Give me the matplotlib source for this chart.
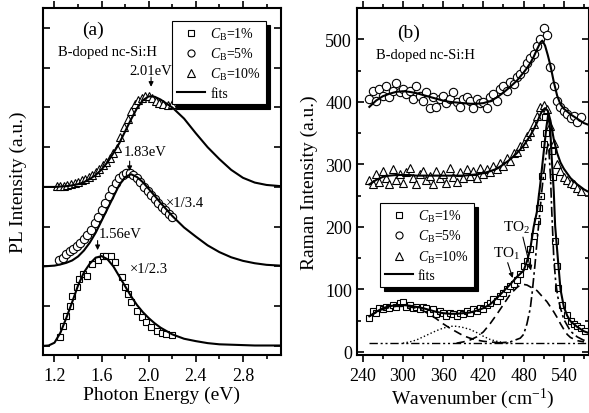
import matplotlib
matplotlib.use("Agg")
import matplotlib.pyplot as plt
from matplotlib.ticker import MultipleLocator

plt.rcParams['font.family'] = ['Liberation Serif', 'DejaVu Serif']
plt.rcParams['mathtext.fontset'] = 'custom'
plt.rcParams['mathtext.rm'] = 'Liberation Serif'
plt.rcParams['mathtext.it'] = 'Liberation Serif:italic'

# ---- (a) PL spectra ----
pl_x10 = [1.22, 1.25, 1.28, 1.31, 1.34, 1.37, 1.40, 1.43, 1.46, 1.49, 1.52, 1.55, 1.58,
          1.61, 1.64, 1.67, 1.70, 1.73, 1.76, 1.79, 1.82, 1.85, 1.88, 1.91, 1.94, 1.97,
          2.00, 2.03, 2.06, 2.09, 2.12, 2.16, 2.20]
pl_y10 = [4.02, 4.02, 4.03, 4.05, 4.07, 4.10, 4.13, 4.17, 4.21, 4.26, 4.31, 4.37, 4.45,
          4.54, 4.63, 4.72, 4.85, 4.98, 5.25, 5.50, 5.70, 5.90, 6.08, 6.18, 6.25, 6.30,
          6.30, 6.25, 6.15, 6.12, 6.08, 6.06, 6.08]
pl_x5 = [1.24, 1.27, 1.30, 1.33, 1.36, 1.39, 1.42, 1.45, 1.48, 1.51, 1.54, 1.57, 1.60,
         1.63, 1.66, 1.69, 1.72, 1.75, 1.78, 1.81, 1.84, 1.87, 1.90, 1.93, 1.96, 1.99,
         2.02, 2.05, 2.08, 2.11, 2.14, 2.17, 2.20]
pl_y5 = [2.15, 2.22, 2.30, 2.38, 2.45, 2.52, 2.60, 2.68, 2.78, 2.92, 3.08, 3.25, 3.42,
         3.60, 3.78, 3.95, 4.10, 4.22, 4.30, 4.35, 4.34, 4.30, 4.22, 4.12, 4.00, 3.90,
         3.80, 3.70, 3.60, 3.50, 3.42, 3.33, 3.25]
pl_x1 = [1.25, 1.27, 1.30, 1.33, 1.35, 1.39, 1.41, 1.44, 1.48, 1.52, 1.57, 1.61, 1.64,
         1.68, 1.71, 1.77, 1.80, 1.82, 1.85, 1.90, 1.94, 1.98, 2.02, 2.07, 2.11, 2.15, 2.20]
pl_y1 = [0.23, 0.50, 0.75, 1.00, 1.26, 1.47, 1.69, 1.81, 1.76, 2.06, 2.15, 2.27, 2.27,
         2.27, 2.11, 1.73, 1.47, 1.31, 1.10, 0.88, 0.73, 0.60, 0.48, 0.38, 0.33, 0.30, 0.28]

fit_x = [1.10, 1.15, 1.20, 1.25, 1.30, 1.35, 1.40, 1.45, 1.50, 1.55, 1.60, 1.65, 1.70,
         1.75, 1.80, 1.85, 1.90, 1.95, 2.00, 2.05, 2.10, 2.20, 2.30, 2.40, 2.50, 2.60,
         2.70, 2.80, 2.90, 3.00, 3.12]
fit10 = [4.00, 4.00, 4.00, 4.01, 4.02, 4.04, 4.07, 4.12, 4.20, 4.30, 4.44, 4.62, 4.85,
         5.10, 5.40, 5.70, 5.98, 6.18, 6.28, 6.27, 6.20, 6.00, 5.72, 5.35, 5.00, 4.70,
         4.43, 4.23, 4.11, 4.05, 4.02]
fit5 = [2.00, 2.01, 2.02, 2.05, 2.09, 2.15, 2.25, 2.40, 2.60, 2.85, 3.15, 3.45, 3.75,
        4.05, 4.25, 4.32, 4.25, 4.12, 3.95, 3.78, 3.60, 3.27, 2.98, 2.75, 2.53, 2.36,
        2.23, 2.14, 2.08, 2.04, 2.02]
fit1 = [0.00, 0.01, 0.08, 0.33, 0.70, 1.10, 1.52, 1.85, 2.07, 2.22, 2.26, 2.18, 2.00,
        1.75, 1.50, 1.25, 1.03, 0.85, 0.70, 0.57, 0.46, 0.29, 0.18, 0.12, 0.07, 0.04,
        0.03, 0.02, 0.01, 0.01, 0.01]

# ---- (b) Raman spectra ----
ram_x = [250, 255, 260, 265, 270, 275, 280, 285, 290, 295, 300, 305, 310, 315, 320, 325,
         330, 335, 340, 345, 350, 355, 360, 365, 370, 375, 380, 385, 390, 395, 400, 405,
         410, 415, 420, 425, 430, 435, 440, 445, 450, 455, 460, 465, 470, 475, 480, 485,
         490, 495, 500, 505, 510, 515, 520, 525, 530, 535, 540, 545, 550, 555, 560, 565]
ram5 = [405, 418, 402, 420, 410, 425, 408, 418, 430, 415, 420, 412, 418, 405, 425, 410,
        402, 415, 390, 408, 392, 404, 410, 398, 405, 415, 400, 392, 405, 408, 402, 390,
        405, 398, 400, 390, 408, 412, 402, 420, 425, 418, 432, 428, 440, 445, 452, 462,
        470, 476, 489, 500, 518, 507, 455, 425, 402, 392, 385, 380, 374, 378, 368, 376]
ram10 = [275, 268, 285, 272, 290, 278, 268, 292, 275, 285, 270, 288, 295, 278, 268, 285,
         290, 275, 282, 268, 290, 278, 285, 270, 295, 280, 272, 288, 278, 292, 282, 290,
         278, 295, 285, 292, 288, 298, 292, 302, 298, 310, 305, 318, 320, 330, 335, 345,
         352, 365, 378, 392, 395, 388, 362, 335, 300, 290, 280, 275, 270, 268, 262, 258]
ram_x1 = [250, 255, 260, 265, 270, 275, 280, 285, 290, 295, 300, 305, 310, 315, 320, 325,
          330, 335, 340, 345, 350, 355, 360, 365, 370, 375, 380, 385, 390, 395, 400, 405,
          410, 415, 420, 425, 430, 435, 440, 445, 450, 455, 460, 465, 470, 475, 480, 485,
          490, 495, 500, 503, 506, 508, 510, 512, 514, 522, 524, 527, 530, 532, 537, 545,
          550, 555, 560, 565, 572]
ram1 = [55, 65, 62, 70, 68, 72, 70, 75, 72, 78, 80, 72, 75, 70, 72, 68,
        72, 70, 62, 68, 60, 65, 62, 58, 62, 60, 58, 62, 60, 65, 62, 68,
        65, 70, 68, 75, 78, 85, 82, 90, 95, 100, 105, 108, 115, 125, 138, 145,
        165, 185, 210, 230, 250, 282, 333, 376, 351, 322, 280, 177, 137, 102, 75, 59,
        49, 45, 41, 38, 33]

rfit_x = [250, 260, 270, 280, 290, 300, 310, 320, 330, 340, 350, 360, 370, 380, 390, 400,
          410, 420, 430, 440, 450, 460, 470, 480, 485, 490, 495, 500, 505, 508, 512, 516,
          520, 525, 530, 535, 540, 550, 560, 570, 575]
rfit5 = [392, 402, 409, 413, 416, 417, 416, 414, 411, 408, 405, 402, 400, 399, 398, 397,
         397, 398, 401, 407, 415, 424, 434, 447, 454, 462, 472, 484, 495, 498, 490, 475,
         458, 432, 410, 396, 389, 380, 373, 366, 364]
rfit10 = [268, 275, 280, 282, 283, 283, 283, 282, 282, 282, 282, 282, 282, 282, 282, 283,
          284, 286, 289, 293, 300, 308, 318, 330, 338, 346, 356, 367, 380, 386, 390, 386,
          370, 340, 318, 303, 293, 278, 268, 260, 257]

r1_x = [250, 260, 270, 280, 290, 300, 310, 320, 330, 340, 350, 360, 370, 380, 390, 400,
        410, 420, 430, 440, 450, 460, 470, 480, 485, 490, 495, 500, 505, 510, 514, 517,
        520, 522, 525, 527, 531, 535, 540, 545, 550, 560, 570, 575]
r1_fit = [57, 64, 70, 73, 75, 75, 74, 72, 70, 67, 64, 62, 61, 61, 62, 63,
          66, 70, 76, 86, 97, 108, 120, 130, 145, 165, 200, 225, 270, 320, 360, 382,
          350, 309, 256, 202, 150, 100, 72, 58, 49, 40, 33, 31]
r1_base = [14, 14, 14, 14, 14, 14, 14, 14, 14, 14, 14, 14, 14, 14, 14, 14,
           14, 14, 14, 14, 14, 14, 14, 14, 14, 14, 14, 14, 14, 14, 14, 14,
           14, 14, 14, 14, 14, 14, 14, 14, 14, 14, 14, 14]
c300_x = [250, 260, 270, 280, 290, 300, 310, 320, 330, 340, 350, 360, 370, 380, 390, 400,
          410, 420, 430, 440, 450]
c300_y = [57, 63, 68, 71, 73, 73, 72, 70, 66, 60, 53, 45, 38, 32, 26, 22, 19, 17, 16, 15, 14]
c380_x = [300, 310, 320, 330, 340, 350, 360, 370, 380, 390, 400, 410, 420, 430, 440, 450, 460]
c380_y = [14, 16, 19, 24, 29, 34, 38, 41, 41, 39, 36, 31, 25, 20, 17, 15, 14]
to1_x = [380, 390, 400, 410, 420, 430, 440, 450, 460, 470, 475, 480, 485, 490, 495, 500,
         505, 510, 515, 520, 525, 530, 535, 540, 545, 550, 560, 570]
to1_y = [14, 16, 19, 24, 32, 45, 60, 76, 92, 103, 107, 108, 107, 104, 101, 98,
         92, 86, 80, 72, 64, 55, 45, 36, 28, 23, 18, 16]
to2_x = [440, 450, 460, 465, 470, 475, 480, 485, 490, 493, 497, 500, 504, 507, 511, 515,
         517, 520, 522, 525, 528, 531, 535, 540, 550, 560, 569, 575]
to2_y = [14, 15, 16, 18, 20, 22, 28, 45, 70, 97, 140, 177, 220, 256, 295, 325,
         335, 282, 225, 150, 110, 88, 70, 52, 33, 24, 19, 17]

fig = plt.figure(figsize=(5.89, 4.14), dpi=100)
ax1 = fig.add_axes([0.0725, 0.140, 0.404, 0.838])
ax2 = fig.add_axes([0.606, 0.140, 0.394, 0.838])

mk = dict(ls='none', mfc='white', mec='black', mew=0.8)
leg_kw = dict(fontsize=10, fancybox=False, edgecolor='black', framealpha=1,
              shadow={'color': 'black', 'alpha': 1, 'ox': 3, 'oy': -3},
              handlelength=2.0, handletextpad=0.4, borderpad=0.35, labelspacing=0.3,
              markerscale=0.85)

ax1.plot(pl_x1, pl_y1, marker='s', ms=5, label=r'$C_{\rm B}$=1%', **mk)
ax1.plot(pl_x5, pl_y5, marker='o', ms=6, label=r'$C_{\rm B}$=5%', **mk)
ax1.plot(pl_x10, pl_y10, marker='^', ms=6, label=r'$C_{\rm B}$=10%', **mk)
ax1.plot(fit_x, fit1, 'k-', lw=1.5, label='fits')
ax1.plot(fit_x, fit5, 'k-', lw=1.5)
ax1.plot(fit_x, fit10, 'k-', lw=1.5)

ax1.set_xlim(1.1, 3.12)
ax1.set_ylim(-0.23, 8.5)
ax1.xaxis.set_major_locator(MultipleLocator(0.4))
ax1.xaxis.set_minor_locator(MultipleLocator(0.2))
ax1.yaxis.set_major_locator(MultipleLocator(1))
ax1.set_yticklabels([])
ax1.set_xlabel('Photon Energy (eV)', fontsize=14, labelpad=1)
ax1.set_ylabel('PL Intensity (a.u.)', fontsize=14, labelpad=8)

ax1.text(1.523, 7.97, '(a)', fontsize=14, ha='center', va='center')
ax1.text(1.234, 7.4, 'B-doped nc-Si:H', fontsize=10.5, ha='left', va='center')
ax1.text(2.013, 6.92, '2.01eV', fontsize=10.5, ha='center', va='center')
ax1.annotate('', xy=(2.02, 6.45), xytext=(2.02, 6.83),
             arrowprops=dict(arrowstyle='-|>', color='k', lw=0.8, mutation_scale=7))
ax1.text(1.97, 4.9, '1.83eV', fontsize=10.5, ha='center', va='center')
ax1.annotate('', xy=(1.838, 4.33), xytext=(1.838, 4.72),
             arrowprops=dict(arrowstyle='-|>', color='k', lw=0.8, mutation_scale=7))
ax1.text(2.306, 3.62, '×1/3.4', fontsize=10.5, ha='center', va='center')
ax1.text(1.76, 2.82, '1.56eV', fontsize=10.5, ha='center', va='center')
ax1.annotate('', xy=(1.566, 2.34), xytext=(1.566, 2.72),
             arrowprops=dict(arrowstyle='-|>', color='k', lw=0.8, mutation_scale=7))
ax1.text(2.004, 1.94, '×1/2.3', fontsize=10.5, ha='center', va='center')

leg1 = ax1.legend(loc='upper right', bbox_to_anchor=(0.968, 0.983), **leg_kw)
leg1.get_frame().set_linewidth(0.8)

ax2.plot(ram_x1, ram1, marker='s', ms=5, label=r'$C_{\rm B}$=1%', **mk)
ax2.plot(ram_x, ram5, marker='o', ms=6, label=r'$C_{\rm B}$=5%', **mk)
ax2.plot(ram_x, ram10, marker='^', ms=6, label=r'$C_{\rm B}$=10%', **mk)
ax2.plot(rfit_x, rfit5, 'k-', lw=1.5)
ax2.plot(rfit_x, rfit10, 'k-', lw=1.5)
ax2.plot(r1_x, r1_fit, 'k-', lw=1.5, label='fits')
ax2.plot(r1_x, r1_base, color='k', lw=1.0, dashes=(6, 2, 1.5, 2, 1.5, 2))
ax2.plot(c300_x, c300_y, color='k', lw=1.2, dashes=(5, 3))
ax2.plot(c380_x, c380_y, color='k', lw=1.0, ls=':')
ax2.plot(to1_x, to1_y, color='k', lw=1.2, dashes=(5, 3))
ax2.plot(to2_x, to2_y, color='k', lw=1.2, dashes=(6, 2, 1.5, 2))

ax2.set_xlim(231.5, 577.5)
ax2.set_ylim(-5, 550)
ax2.xaxis.set_major_locator(MultipleLocator(60))
ax2.xaxis.set_minor_locator(MultipleLocator(30))
ax2.yaxis.set_major_locator(MultipleLocator(100))
ax2.yaxis.set_minor_locator(MultipleLocator(50))
ax2.set_xlabel('Wavenumber (cm$^{-1}$)', fontsize=14, labelpad=1)
ax2.set_ylabel('Raman Intensity (a.u.)', fontsize=14, labelpad=5)

ax2.text(309, 511, '(b)', fontsize=14, ha='center', va='center')
ax2.text(260, 476, 'B-doped nc-Si:H', fontsize=10.5, ha='left', va='center')
ax2.text(469, 200, 'TO$_2$', fontsize=11, ha='center', va='center')
ax2.annotate('', xy=(492, 126), xytext=(478, 188),
             arrowprops=dict(arrowstyle='-|>', color='k', lw=0.8, mutation_scale=7))
ax2.text(454, 158, 'TO$_1$', fontsize=11, ha='center', va='center')
ax2.annotate('', xy=(465, 114), xytext=(455, 147),
             arrowprops=dict(arrowstyle='-|>', color='k', lw=0.8, mutation_scale=7))

leg2 = ax2.legend(loc='upper left', bbox_to_anchor=(0.069, 0.458), **leg_kw)
leg2.get_frame().set_linewidth(0.8)

for ax in (ax1, ax2):
    for s in ax.spines.values():
        s.set_linewidth(1.5)
    ax.tick_params(axis='x', which='both', direction='out', top=True, labelsize=13, width=1.2)
    ax.tick_params(axis='x', which='major', length=5)
    ax.tick_params(axis='x', which='minor', length=3)
    ax.tick_params(axis='y', which='both', direction='in', right=True, labelsize=13, width=1.2)
    ax.tick_params(axis='y', which='major', length=5)
    ax.tick_params(axis='y', which='minor', length=3)

fig.savefig('out.png', dpi=100)
